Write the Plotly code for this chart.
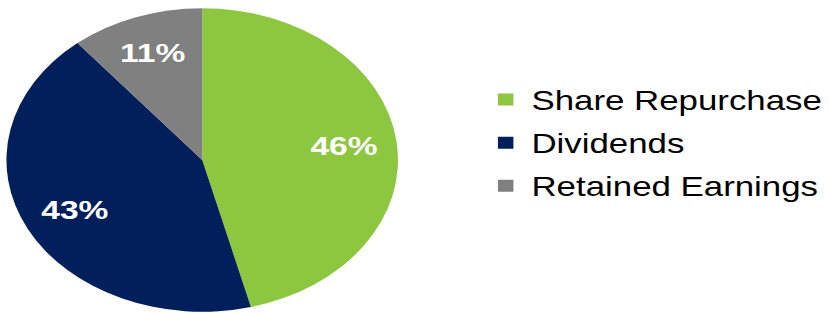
import plotly.graph_objects as go

labels = ["Share Repurchase", "Dividends", "Retained Earnings"]
values = [46, 43, 11]
colors = ["#8DC63F", "#001F5B", "#808080"]

S = 1.29  # horizontal stretch of the original picture
W = round(829 / S)
H = 314
FONT = "Liberation Sans, Arial"
dom = dict(x=[5 / W, 309 / W], y=[2 / H, 306 / H])

fig = go.Figure()
# the pie itself
fig.add_trace(
    go.Pie(
        labels=labels,
        values=values,
        marker=dict(colors=colors, line=dict(width=0)),
        sort=False,
        direction="clockwise",
        rotation=0,
        textinfo="none",
        domain=dom,
        showlegend=False,
        hoverinfo="label+percent",
    )
)
# transparent ring carrying the percentage labels (places them at ~0.73 r)
fig.add_trace(
    go.Pie(
        labels=labels,
        values=values,
        hole=0.46,
        marker=dict(colors=["rgba(0,0,0,0)"] * len(values), line=dict(width=0)),
        sort=False,
        direction="clockwise",
        rotation=0,
        texttemplate="%{value}%",
        textposition="inside",
        insidetextorientation="horizontal",
        insidetextfont=dict(family=FONT, size=26, color="white", weight="bold"),
        domain=dom,
        showlegend=False,
        hoverinfo="skip",
    )
)
# legend entries
for lab, col in zip(labels, colors):
    fig.add_trace(
        go.Scatter(
            x=[None],
            y=[None],
            mode="markers",
            name=lab,
            legendgroup=lab,
            marker=dict(symbol="square", size=12, color=col),
            showlegend=True,
        )
    )

fig.update_layout(
    width=W,
    height=H,
    margin=dict(l=0, r=0, t=0, b=0),
    paper_bgcolor="white",
    plot_bgcolor="white",
    font=dict(family=FONT, color="#000000"),
    xaxis=dict(visible=False),
    yaxis=dict(visible=False),
    showlegend=True,
    legend=dict(
        x=372.5 / W,
        y=1 - 143 / H,
        xanchor="left",
        yanchor="middle",
        font=dict(size=27, color="#000000"),
        bgcolor="rgba(0,0,0,0)",
        tracegroupgap=5,
        traceorder="grouped",
    ),
)

post = (
    "document.body.style.margin='0';"
    "document.body.style.overflow='hidden';"
    "var d=document.getElementById('{plot_id}');"
    "d.style.transformOrigin='0 0';"
    "d.style.transform='scaleX(%s)';" % S
)
fig.write_html("out.html", post_script=post, config={"displayModeBar": False})
